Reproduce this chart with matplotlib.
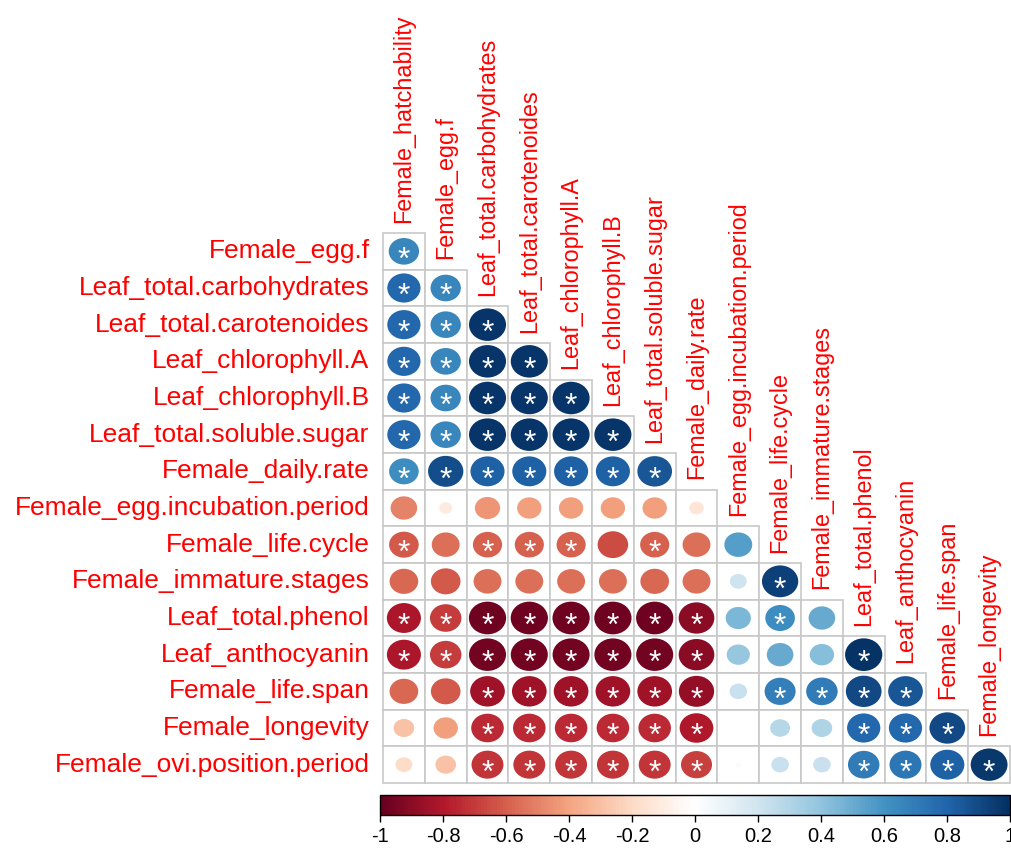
import numpy as np
import matplotlib
matplotlib.use("Agg")
import matplotlib.pyplot as plt
from matplotlib.patches import Ellipse, Rectangle
from matplotlib.colors import LinearSegmentedColormap, Normalize
from matplotlib.cm import ScalarMappable

plt.rcParams['font.family'] = ['Liberation Sans', 'DejaVu Sans']

# variable names (columns = first 15, rows = last 15)
variables = ["Female_hatchability", "Female_egg.f", "Leaf_total.carbohydrates",
             "Leaf_total.carotenoides", "Leaf_chlorophyll.A", "Leaf_chlorophyll.B",
             "Leaf_total.soluble.sugar", "Female_daily.rate",
             "Female_egg.incubation.period", "Female_life.cycle",
             "Female_immature.stages", "Leaf_total.phenol", "Leaf_anthocyanin",
             "Female_life.span", "Female_longevity", "Female_ovi.position.period"]
col_names = variables[:-1]
row_names = variables[1:]

# lower triangle of correlation matrix
corr_rows = [
    [0.65],
    [0.78, 0.65],
    [0.78, 0.65, 0.97],
    [0.78, 0.65, 0.97, 0.97],
    [0.78, 0.65, 0.97, 0.97, 0.97],
    [0.78, 0.65, 0.97, 0.97, 0.97, 0.97],
    [0.62, 0.88, 0.82, 0.82, 0.82, 0.82, 0.85],
    [-0.50, -0.12, -0.45, -0.42, -0.42, -0.42, -0.42, -0.15],
    [-0.62, -0.55, -0.60, -0.60, -0.60, -0.66, -0.60, -0.55, 0.55],
    [-0.58, -0.62, -0.55, -0.55, -0.55, -0.55, -0.58, -0.55, 0.20, 0.93],
    [-0.82, -0.70, -0.98, -0.98, -0.98, -0.98, -0.98, -0.90, 0.45, 0.62, 0.50],
    [-0.82, -0.70, -0.97, -0.97, -0.97, -0.97, -0.97, -0.90, 0.38, 0.50, 0.42, 0.98],
    [-0.58, -0.62, -0.85, -0.85, -0.85, -0.85, -0.85, -0.88, 0.22, 0.68, 0.70, 0.90, 0.85],
    [-0.30, -0.42, -0.75, -0.75, -0.75, -0.75, -0.75, -0.80, 0.00, 0.28, 0.30, 0.78, 0.78, 0.90],
    [-0.20, -0.30, -0.72, -0.72, -0.72, -0.72, -0.72, -0.68, 0.02, 0.22, 0.22, 0.70, 0.72, 0.82, 0.96],
]

# significance marks (1 = "*")
sig_rows = [
    "1",
    "11",
    "111",
    "1111",
    "11111",
    "111111",
    "1111111",
    "00000000",
    "101110100",
    "0000000001",
    "11111111010",
    "111111110001",
    "0011111101111",
    "00111111000111",
    "001111110001111",
]

cbar_ticks = [-1, -0.8, -0.6, -0.4, -0.2, 0, 0.2, 0.4, 0.6, 0.8, 1]
cbar_labels = ["-1", "-0.8", "-0.6", "-0.4", "-0.2", "0", "0.2", "0.4", "0.6", "0.8", "1"]

# corrplot RdBu palette
cmap = LinearSegmentedColormap.from_list("RdBu_corr", [
    "#67001F", "#B2182B", "#D6604D", "#F4A582", "#FDDBC7", "#FFFFFF",
    "#D1E5F0", "#92C5DE", "#4393C3", "#2166AC", "#053061"], N=200)
norm = Normalize(-1, 1)

W, H = 1011, 848
fig = plt.figure(figsize=(W / 100, H / 100), dpi=100, facecolor='white')

n = len(row_names)
gx0, gx1, gy0, gy1 = 383, 1010, 233, 783
ax = fig.add_axes([gx0 / W, 1 - gy1 / H, (gx1 - gx0) / W, (gy1 - gy0) / H])
ax.set_xlim(0, n)
ax.set_ylim(n, 0)
ax.axis('off')

for i, row in enumerate(corr_rows):
    for j, r in enumerate(row):
        ax.add_patch(Rectangle((j, i), 1, 1, facecolor='white', edgecolor='#C8C8C8',
                               lw=1.2, clip_on=False, zorder=1))
        d = 0.9 * np.sqrt(abs(r))
        ax.add_patch(Ellipse((j + 0.5, i + 0.5), d, d, facecolor=cmap(norm(r)),
                             edgecolor='none', clip_on=False, zorder=2))
        if sig_rows[i][j] == "1":
            ax.text(j + 0.5, i + 0.5 + 0.47, "*", color='white', fontsize=23,
                    ha='center', va='baseline', zorder=3, clip_on=False)

for i, name in enumerate(row_names):
    ax.text(-0.32, i + 0.5, name, color='red', fontsize=19, ha='right',
            va='center', clip_on=False)

for j, name in enumerate(col_names):
    ax.text(j + 0.5, j - 0.28, name, color='red', fontsize=16.8, rotation=90,
            ha='center', va='bottom', clip_on=False)

# colour legend
cax = fig.add_axes([380 / W, 1 - 815 / H, 630 / W, 20 / H])
cb = fig.colorbar(ScalarMappable(norm=norm, cmap=cmap), cax=cax, orientation='horizontal')
cb.outline.set_linewidth(1.0)
cax.set_xticks(cbar_ticks)
cax.set_xticklabels(cbar_labels, fontsize=14.5)
cax.tick_params(axis='x', length=5, width=1, pad=4)

fig.savefig("out.png", dpi=100, facecolor='white')
